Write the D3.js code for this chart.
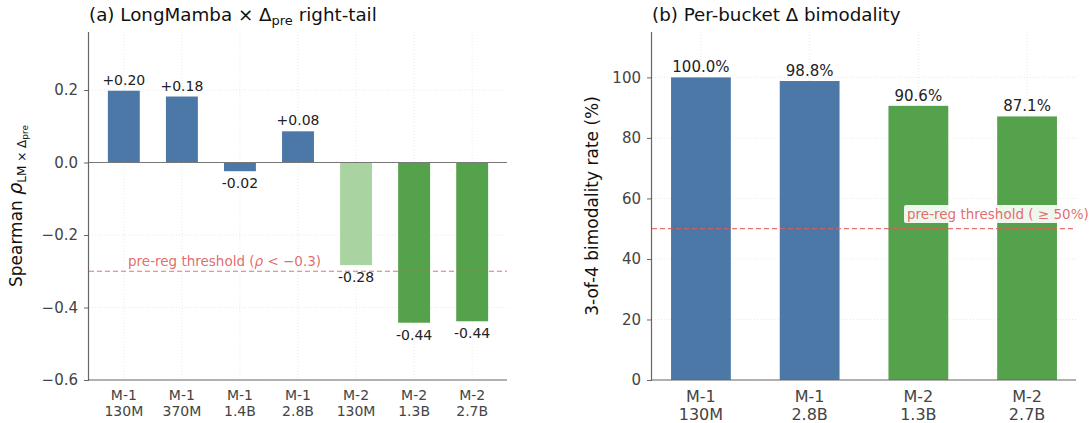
<!DOCTYPE html>
<html><head><meta charset="utf-8">
<script src="https://cdn.jsdelivr.net/npm/d3@7"></script>
<style>
body{margin:0;background:#fff;}
svg{font-family:"DejaVu Sans",sans-serif;}
</style></head><body>
<svg id="c" width="1092" height="423"></svg>
<script>
// Panel (a)
const catsA = [["M-1","130M"],["M-1","370M"],["M-1","1.4B"],["M-1","2.8B"],["M-2","130M"],["M-2","1.3B"],["M-2","2.7B"]];
const valsA = [0.198, 0.182, -0.024, 0.086, -0.283, -0.442, -0.438];
const labelsA = ["+0.20","+0.18","-0.02","+0.08","-0.28","-0.44","-0.44"];
const groupA = ["m1","m1","m1","m1","m2light","m2","m2"];
const ticksA = [-0.6,-0.4,-0.2,0.0,0.2];
const thresholdA = -0.3;
// Panel (b)
const catsB = [["M-1","130M"],["M-1","2.8B"],["M-2","1.3B"],["M-2","2.7B"]];
const valsB = [100.0, 98.8, 90.6, 87.1];
const labelsB = ["100.0%","98.8%","90.6%","87.1%"];
const groupB = ["m1","m1","m2","m2"];
const ticksB = [0,20,40,60,80,100];
const thresholdB = 50;

const colors = {m1:"#4c78a8", m2:"#54a24b", m2light:"#a9d3a0"};
const red = "#e05a5a";
const svg = d3.select("#c");
const plotTop = 32, plotBottom = 380;

function fmtMinus(v){ return d3.format(".1f")(v).replace("-","\u2212"); }

function panel(opt){
  const g = svg.append("g");
  const x = d3.scaleLinear().domain(opt.xdom).range([opt.x0, opt.x1]);
  const y = d3.scaleLinear().domain(opt.ydom).range([plotBottom, plotTop]);
  // grid
  g.selectAll(".hg").data(opt.ticks).join("line")
    .attr("x1",opt.x0).attr("x2",opt.x1).attr("y1",d=>y(d)).attr("y2",d=>y(d))
    .attr("stroke","#e3e3e3").attr("stroke-width",0.8).attr("stroke-dasharray","1,2");
  g.selectAll(".vg").data(opt.cats).join("line")
    .attr("x1",(d,i)=>x(i)).attr("x2",(d,i)=>x(i)).attr("y1",plotTop).attr("y2",plotBottom)
    .attr("stroke","#e3e3e3").attr("stroke-width",0.8).attr("stroke-dasharray","1,2");
  // bars
  const bw = x(opt.bw) - x(0);
  g.selectAll(".bar").data(opt.vals).join("rect")
    .attr("x",(d,i)=>x(i)-bw/2).attr("width",bw)
    .attr("y",d=>y(Math.max(0,d))).attr("height",d=>Math.abs(y(d)-y(0)))
    .attr("fill",(d,i)=>colors[opt.groups[i]]);
  // zero line
  if (opt.zeroLine){
    g.append("line").attr("x1",opt.x0).attr("x2",opt.x1).attr("y1",y(0)).attr("y2",y(0))
      .attr("stroke","#777").attr("stroke-width",1.2);
  }
  // threshold
  g.append("line").attr("x1",opt.x0).attr("x2",opt.x1).attr("y1",y(opt.thr)).attr("y2",y(opt.thr))
    .attr("stroke",red).attr("stroke-opacity",0.85).attr("stroke-width",1.2).attr("stroke-dasharray","5,3");
  // threshold label
  const tl = g.append("g");
  const tt = tl.append("text").attr("x",opt.thrLabelX).attr("y",opt.thrLabelY)
    .attr("font-size",opt.thrFont).attr("fill",red).attr("fill-opacity",0.9);
  opt.thrLabel(tt);
  const bb = tt.node().getBBox();
  tl.insert("rect","text").attr("x",bb.x-3).attr("y",bb.y-1).attr("width",bb.width+6).attr("height",bb.height+2)
    .attr("rx",2).attr("fill","#fff").attr("fill-opacity",opt.boxOpacity);
  // value labels
  g.selectAll(".vl").data(opt.vals).join("text")
    .attr("x",(d,i)=>x(i)).attr("y",d=> d>=0 ? y(d)-opt.posOff : y(d)+opt.negOff)
    .attr("text-anchor","middle").attr("font-size",opt.valFont).attr("fill","#222")
    .text((d,i)=>opt.labels[i]);
  // axes
  const ax = d3.axisLeft(y).tickValues(opt.ticks).tickFormat(opt.tickFmt).tickSize(5).tickPadding(6);
  const ga = g.append("g").attr("transform",`translate(${opt.x0},0)`).call(ax);
  ga.select(".domain").attr("stroke","#666").attr("stroke-width",1.2).attr("d",`M-0.5,${plotTop}V${plotBottom}`);
  ga.selectAll(".tick line").attr("stroke","#666");
  ga.selectAll(".tick text").attr("font-size",15).attr("fill","#444").attr("font-family","DejaVu Sans");
  g.append("line").attr("x1",opt.x0).attr("x2",opt.x1).attr("y1",plotBottom).attr("y2",plotBottom)
    .attr("stroke","#666").attr("stroke-width",1.2);
  // x tick labels
  const xl = g.selectAll(".xl").data(opt.cats).join("text")
    .attr("text-anchor","middle").attr("font-size",opt.xFont).attr("fill","#444");
  xl.append("tspan").attr("x",(d,i)=>x(i)).attr("y",plotBottom+opt.xFont+6).text(d=>d[0]);
  xl.append("tspan").attr("x",(d,i)=>x(i)).attr("y",plotBottom+2*opt.xFont+8).text(d=>d[1]);
  // title
  const t = g.append("text").attr("x",opt.x0).attr("y",21).attr("font-size",18.3).attr("fill","#111");
  opt.title(t);
  // y label
  const yl = g.append("text").attr("transform",`translate(${opt.ylX},${(plotTop+plotBottom)/2}) rotate(-90)`)
    .attr("text-anchor","middle").attr("font-size",17).attr("fill","#111");
  opt.ylabel(yl);
}

panel({
  x0:89, x1:507, xdom:[-0.6,6.6], ydom:[-0.6,0.36], bw:0.55,
  cats:catsA, vals:valsA, labels:labelsA, groups:groupA, ticks:ticksA, thr:thresholdA,
  tickFmt:fmtMinus, zeroLine:true, posOff:6, negOff:17, valFont:14, xFont:14,
  thrLabelX:128, thrLabelY:266, thrFont:13.5, boxOpacity:0.7,
  thrLabel:t=>{ t.append("tspan").text("pre-reg threshold (");
    t.append("tspan").attr("font-style","italic").text("\u03C1");
    t.append("tspan").text(" < \u22120.3)"); },
  ylX:22,
  title:t=>{ t.append("tspan").text("(a) LongMamba \u00D7 \u0394");
    t.append("tspan").attr("font-size",13).attr("dy",4).text("pre");
    t.append("tspan").attr("dy",-4).text(" right-tail"); },
  ylabel:t=>{ t.append("tspan").text("Spearman ");
    t.append("tspan").attr("font-style","italic").attr("font-size",19).text("\u03C1");
    t.append("tspan").attr("font-size",12).attr("dy",4).text("LM \u00D7 \u0394");
    t.append("tspan").attr("font-size",9).attr("dy",2).text("pre"); }
});

panel({
  x0:652, x1:1076, xdom:[-0.45,3.45], ydom:[0,115], bw:0.55,
  cats:catsB, vals:valsB, labels:labelsB, groups:groupB, ticks:ticksB, thr:thresholdB,
  tickFmt:d3.format("d"), zeroLine:false, posOff:5, negOff:17, valFont:15, xFont:16,
  thrLabelX:907, thrLabelY:219, thrFont:13.5, boxOpacity:0.9,
  thrLabel:t=>{ t.text("pre-reg threshold ( \u2265 50%)"); },
  ylX:598,
  title:t=>{ t.text("(b) Per-bucket \u0394 bimodality"); },
  ylabel:t=>{ t.text("3-of-4 bimodality rate (%)"); }
});
</script>
</body></html>
